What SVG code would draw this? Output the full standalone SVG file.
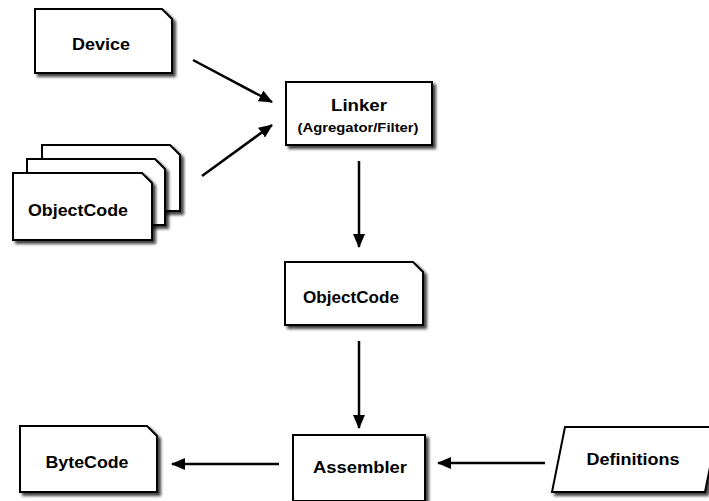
<svg xmlns="http://www.w3.org/2000/svg" width="709" height="501" viewBox="0 0 709 501">
  <defs>
    <filter id="shadow" x="-10%" y="-10%" width="130%" height="140%">
      <feGaussianBlur in="SourceAlpha" stdDeviation="1.6"/>
      <feOffset dx="3" dy="3" result="b"/>
      <feComponentTransfer><feFuncA type="linear" slope="0.75"/></feComponentTransfer>
      <feMerge><feMergeNode/><feMergeNode in="SourceGraphic"/></feMerge>
    </filter>
    <marker id="arrow" markerWidth="14" markerHeight="12" refX="13" refY="6" orient="auto" markerUnits="userSpaceOnUse">
      <path d="M0,0 L14,6 L0,12 Z" fill="#000"/>
    </marker>
  </defs>
  <style>
    .box { fill: #fff; stroke: #000; stroke-width: 2; filter: url(#shadow); }
    .lbl { font-family: "Liberation Sans", Arial, sans-serif; font-weight: bold; font-size: 17px; fill: #000; text-anchor: middle; }
    .sub { font-size: 13px; }
    .conn { stroke: #000; stroke-width: 2.5; fill: none; marker-end: url(#arrow); }
  </style>
  <rect width="709" height="501" fill="#fff"/>

  <g id="device">
    <path class="box" d="M35,9 H162 L172,19 V73 H35 Z"/>
    <text class="lbl" x="101" y="50" textLength="58" lengthAdjust="spacingAndGlyphs">Device</text>
  </g>

  <g id="objectcode-stack">
    <path class="box" d="M42,145 H170 L180,155 V211 H42 Z"/>
    <path class="box" d="M27,159 H155 L165,169 V225 H27 Z"/>
    <path class="box" d="M13,173 H142 L152,183 V240 H13 Z"/>
    <text class="lbl" x="78" y="216" textLength="100" lengthAdjust="spacingAndGlyphs">ObjectCode</text>
  </g>

  <g id="linker">
    <rect class="box" x="286" y="82" width="146" height="63"/>
    <text class="lbl" x="359" y="111" textLength="56" lengthAdjust="spacingAndGlyphs">Linker</text>
    <text class="lbl sub" x="358" y="132" textLength="121" lengthAdjust="spacingAndGlyphs">(Agregator/Filter)</text>
  </g>

  <g id="objectcode">
    <path class="box" d="M285,262 H413 L423,272 V325 H285 Z"/>
    <text class="lbl" x="351" y="303" textLength="96" lengthAdjust="spacingAndGlyphs">ObjectCode</text>
  </g>

  <g id="assembler">
    <rect class="box" x="293" y="435" width="132" height="66"/>
    <text class="lbl" x="360" y="473" textLength="94" lengthAdjust="spacingAndGlyphs">Assembler</text>
  </g>

  <g id="bytecode">
    <path class="box" d="M20,426 H147 L157,436 V492 H20 Z"/>
    <text class="lbl" x="87" y="468" textLength="83" lengthAdjust="spacingAndGlyphs">ByteCode</text>
  </g>

  <g id="definitions">
    <path class="box" d="M565,427 H718 L705,492 H552 Z"/>
    <text class="lbl" x="633" y="465" textLength="93" lengthAdjust="spacingAndGlyphs">Definitions</text>
  </g>

  <g id="connectors">
    <line class="conn" x1="193" y1="60" x2="272" y2="102"/>
    <line class="conn" x1="202" y1="176" x2="272" y2="125"/>
    <line class="conn" x1="359" y1="161" x2="359" y2="247"/>
    <line class="conn" x1="359" y1="341" x2="359" y2="428"/>
    <line class="conn" x1="279" y1="464" x2="172" y2="464"/>
    <line class="conn" x1="545" y1="463" x2="438" y2="463"/>
  </g>
</svg>
